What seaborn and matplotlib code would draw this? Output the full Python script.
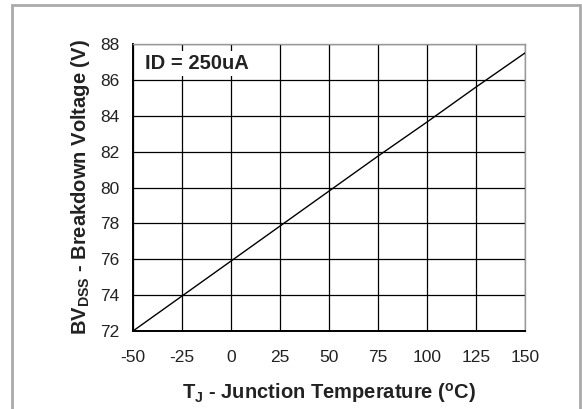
import matplotlib
matplotlib.use("Agg")
import matplotlib.pyplot as plt
import seaborn as sns
import pandas as pd
from matplotlib.patches import Rectangle

temps = [-50, -25, 0, 25, 50, 75, 100, 125, 150]
bvdss = [72.0, 73.95, 75.9, 77.85, 79.8, 81.75, 83.65, 85.6, 87.5]
xticks = [-50, -25, 0, 25, 50, 75, 100, 125, 150]
yticks = [72, 74, 76, 78, 80, 82, 84, 86, 88]

sns.set_theme(style="white")
plt.rcParams['font.family'] = ['Liberation Sans', 'DejaVu Sans']
plt.rcParams['mathtext.fontset'] = 'custom'
plt.rcParams['mathtext.rm'] = 'Liberation Sans'
plt.rcParams['mathtext.bf'] = 'Liberation Sans:bold'
plt.rcParams['mathtext.it'] = 'Liberation Sans:italic'

df = pd.DataFrame({"T": temps, "BV": bvdss})

fig = plt.figure(figsize=(5.82, 4.09), dpi=100)
ax = fig.add_axes([133/582, 1-331/409, (525-133)/582, (331-44)/409])

sns.lineplot(data=df, x="T", y="BV", ax=ax, color="black", linewidth=1.0, zorder=3)

ax.set_xlim(-50, 150)
ax.set_ylim(72, 88)
ax.set_xticks(xticks)
ax.set_yticks(yticks)
ax.set_xticklabels([str(t) for t in xticks], fontsize=12.5, color="#222222")
ax.set_yticklabels([str(t) for t in yticks], fontsize=12.5, color="#222222")
ax.tick_params(axis='y', length=0, pad=10)
ax.tick_params(axis='x', length=0, pad=14)
ax.grid(True, color="black", linewidth=0.9)
ax.set_axisbelow(True)

for s in ['left', 'bottom']:
    ax.spines[s].set_color('black')
    ax.spines[s].set_linewidth(1.4)
for s in ['top', 'right']:
    ax.spines[s].set_color('#999999')
    ax.spines[s].set_linewidth(1.0)

ax.set_xlabel(r'$\mathbf{T_J}$ - Junction Temperature ($\mathbf{^o}$C)',
              fontsize=14.5, fontweight='bold', color='#222222', labelpad=11)
ax.set_ylabel(r'$\mathbf{BV_{DSS}}$ - Breakdown Voltage (V)',
              fontsize=14.5, fontweight='bold', color='#222222', labelpad=6)

ax.text(-44, 86.9, 'ID = 250uA', fontsize=14.5, fontweight='bold',
        color='#222222', va='center', ha='left',
        bbox=dict(facecolor='white', edgecolor='none', pad=2))

fig.patches.append(Rectangle((12/582, -0.1), (580-12)/582, 1.1 - 5/409,
                             transform=fig.transFigure, fill=False,
                             edgecolor='#aaaaaa', linewidth=2.0))

fig.savefig("out.png", dpi=100)
